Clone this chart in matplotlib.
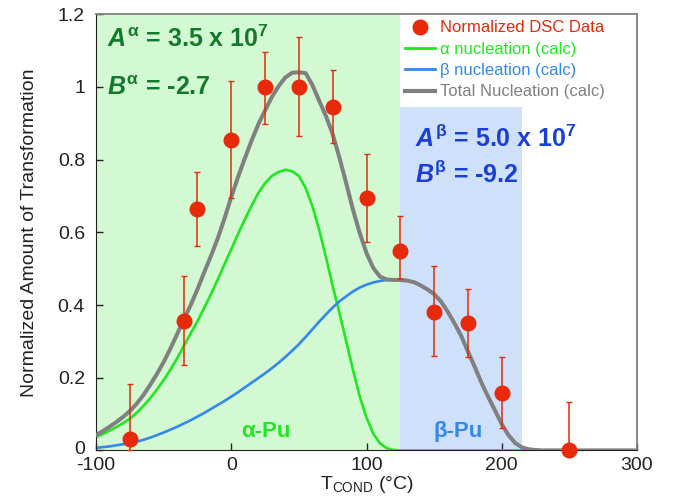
import matplotlib
matplotlib.use("Agg")
import matplotlib.pyplot as plt
import matplotlib.transforms as mtransforms
from matplotlib.lines import Line2D

plt.rcParams['font.family'] = ['Liberation Sans', 'DejaVu Sans']
plt.rcParams['mathtext.fontset'] = 'custom'
plt.rcParams['mathtext.rm'] = 'Liberation Sans'
plt.rcParams['mathtext.it'] = 'Liberation Sans:italic:bold'
plt.rcParams['mathtext.bf'] = 'Liberation Sans:bold'

# ---- data ----
dsc_T = [-75, -35, -25, 0, 25, 50, 75, 100, 125, 150, 175, 200, 250]
dsc_val = [0.030, 0.357, 0.663, 0.855, 1.000, 1.000, 0.945, 0.694, 0.549, 0.382, 0.351, 0.159, 0.000]
dsc_err_lo = [0.030, 0.121, 0.100, 0.160, 0.102, 0.134, 0.100, 0.121, 0.077, 0.122, 0.093, 0.097, 0.000]
dsc_err_hi = [0.154, 0.122, 0.102, 0.162, 0.096, 0.137, 0.101, 0.122, 0.095, 0.125, 0.094, 0.097, 0.132]

curve_T = [-100, -95, -90, -85, -80, -75, -70, -65, -60, -55, -50, -45, -40, -35, -30,
           -25, -20, -15, -10, -5, 0, 5, 10, 15, 20, 25, 30, 35, 40, 45, 50, 55, 60,
           65, 70, 75, 80, 85, 90, 95, 100, 105, 110, 115, 120, 125, 130, 135, 140,
           145, 150, 155, 160, 165, 170, 175, 180, 185, 190, 195, 200, 205, 210, 215,
           220, 225, 230, 300]
alpha_calc = [0.037, 0.045, 0.054, 0.064, 0.075, 0.087, 0.103, 0.122, 0.143, 0.167, 0.193,
              0.222, 0.253, 0.288, 0.322, 0.355, 0.392, 0.430, 0.470, 0.512, 0.553, 0.595,
              0.635, 0.673, 0.708, 0.735, 0.755, 0.766, 0.772, 0.768, 0.755, 0.722, 0.672,
              0.607, 0.532, 0.452, 0.378, 0.300, 0.222, 0.148, 0.090, 0.046, 0.019, 0.006,
              0.001, 0.0, 0.0, 0.0, 0.0, 0.0, 0.0, 0.0, 0.0, 0.0, 0.0, 0.0, 0.0, 0.0, 0.0,
              0.0, 0.0, 0.0, 0.0, 0.0, 0.0, 0.0, 0.0, 0.0]
beta_calc = [0.007, 0.009, 0.011, 0.014, 0.017, 0.020, 0.024, 0.029, 0.035, 0.042, 0.049,
             0.057, 0.065, 0.074, 0.083, 0.093, 0.103, 0.114, 0.125, 0.136, 0.148, 0.160,
             0.173, 0.186, 0.199, 0.212, 0.226, 0.241, 0.257, 0.274, 0.292, 0.312, 0.333,
             0.354, 0.374, 0.393, 0.410, 0.424, 0.437, 0.448, 0.456, 0.462, 0.466, 0.469,
             0.470, 0.470, 0.468, 0.463, 0.454, 0.443, 0.430, 0.410, 0.382, 0.350, 0.315,
             0.272, 0.230, 0.186, 0.147, 0.110, 0.072, 0.042, 0.020, 0.008, 0.003, 0.001,
             0.0, 0.0]
total_calc = [0.042, 0.053, 0.065, 0.078, 0.092, 0.108, 0.128, 0.152, 0.180, 0.210, 0.243,
              0.280, 0.320, 0.360, 0.400, 0.443, 0.490, 0.535, 0.583, 0.638, 0.697, 0.752,
              0.803, 0.852, 0.897, 0.935, 0.972, 1.002, 1.026, 1.039, 1.040, 1.038, 1.005,
              0.962, 0.920, 0.870, 0.805, 0.735, 0.662, 0.598, 0.543, 0.502, 0.478, 0.470,
              0.469, 0.469, 0.467, 0.463, 0.454, 0.443, 0.430, 0.410, 0.382, 0.350, 0.315,
              0.272, 0.230, 0.186, 0.147, 0.110, 0.072, 0.042, 0.020, 0.008, 0.003, 0.001,
              0.0, 0.0]

alpha_region = (-100, 124.5)
beta_region = (124.5, 215.0)
beta_region_top = 0.945

x_ticks = [-100, 0, 100, 200, 300]
y_ticks = [0, 0.2, 0.4, 0.6, 0.8, 1.0, 1.2]
y_tick_labels = ['0', '0.2', '0.4', '0.6', '0.8', '1', '1.2']

# ---- colors ----
c_green_bg = '#d3f9d3'
c_blue_bg = '#cfe0fa'
c_alpha = '#22e622'
c_beta = '#3388ee'
c_total = '#808080'
c_data = '#e62a0a'

fig = plt.figure(figsize=(6.79, 5.04), dpi=100)
ax = fig.add_axes([96 / 679, (504 - 450.4) / 504, (637 - 96) / 679, (450.4 - 14.2) / 504])

ax.axvspan(alpha_region[0], alpha_region[1], ymin=0, ymax=1, color=c_green_bg, lw=0, zorder=0)
ax.axvspan(beta_region[0], beta_region[1], ymin=0, ymax=beta_region_top / 1.2,
           color=c_blue_bg, lw=0, zorder=0)

ax.plot(curve_T, alpha_calc, color=c_alpha, lw=1.9, zorder=2, solid_joinstyle='round')
ax.plot(curve_T, beta_calc, color=c_beta, lw=1.9, zorder=2, solid_joinstyle='round')
ax.plot(curve_T, total_calc, color=c_total, lw=2.9, zorder=3, solid_joinstyle='round')

ax.errorbar(dsc_T, dsc_val, yerr=[dsc_err_lo, dsc_err_hi], fmt='o', color=c_data,
            ms=10.5, mec=c_data, ecolor=c_data, elinewidth=1.1, capsize=2.5,
            capthick=1.0, zorder=4, clip_on=False)

ax.set_xlim(-100, 300)
ax.set_ylim(0, 1.2)
ax.set_xticks(x_ticks)
ax.set_xticklabels([str(v) for v in x_ticks])
ax.set_yticks(y_ticks)
ax.set_yticklabels(y_tick_labels)
ax.tick_params(direction='in', length=5, width=1, labelsize=14, colors='#222222')
ax.tick_params(axis='y', pad=8)
ax.tick_params(axis='x', pad=5)
for lab in ax.get_yticklabels():
    lab.set_verticalalignment('center_baseline')
# lift the "0" label slightly so it clears the "-100" label, as in the reference
zero_lab = ax.yaxis.get_major_ticks()[0].label1
zero_lab.set_transform(zero_lab.get_transform() +
                       mtransforms.ScaledTranslation(0, 3 / 100, fig.dpi_scale_trans))

for s in ['left', 'bottom']:
    ax.spines[s].set_color('#222222')
for s in ['top', 'right']:
    ax.spines[s].set_color('#808080')
    ax.spines[s].set_linewidth(1.3)

ax.set_ylabel('Normalized Amount of Transformation', fontsize=14, color='#222222', labelpad=14)
ax.set_xlabel(r'T$_{\mathrm{COND}}$ (°C)', fontsize=14, color='#222222', labelpad=0)

# annotations
dark_green = '#137a2c'
dark_blue = '#1a3fd8'
ax.text(-92, 1.11, r'$\mathit{A}^{\mathbf{α}}$ = 3.5 x 10$^{\mathbf{7}}$', fontsize=18,
        fontweight='bold', color=dark_green, ha='left', va='baseline', zorder=5)
ax.text(-92, 0.978, r'$\mathit{B}^{\mathbf{α}}$ = -2.7', fontsize=18,
        fontweight='bold', color=dark_green, ha='left', va='baseline', zorder=5)
ax.text(136, 0.836, r'$\mathit{A}^{\mathbf{β}}$ = 5.0 x 10$^{\mathbf{7}}$', fontsize=18,
        fontweight='bold', color=dark_blue, ha='left', va='baseline', zorder=5)
ax.text(136, 0.735, r'$\mathit{B}^{\mathbf{β}}$ = -9.2', fontsize=18,
        fontweight='bold', color=dark_blue, ha='left', va='baseline', zorder=5)
ax.text(25.5, 0.037, 'α-Pu', fontsize=16, fontweight='bold', color=c_alpha,
        ha='center', va='baseline', zorder=5)
ax.text(168, 0.037, 'β-Pu', fontsize=16, fontweight='bold', color=c_beta,
        ha='center', va='baseline', zorder=5)

handles = [
    Line2D([], [], marker='o', ls='none', color=c_data, ms=10.5),
    Line2D([], [], color=c_alpha, lw=2),
    Line2D([], [], color=c_beta, lw=2),
    Line2D([], [], color=c_total, lw=3),
]
labels = ['Normalized DSC Data', 'α nucleation (calc)', 'β nucleation (calc)',
          'Total Nucleation (calc)']
leg = ax.legend(handles, labels, loc='upper left', bbox_to_anchor=(0.555, 1.005),
                frameon=False, fontsize=12, handlelength=1.8, handletextpad=0.3,
                labelspacing=0.38, borderaxespad=0.1)
for txt, col in zip(leg.get_texts(), [c_data, c_alpha, c_beta, c_total]):
    txt.set_color(col)

fig.savefig('out.png', dpi=100)
